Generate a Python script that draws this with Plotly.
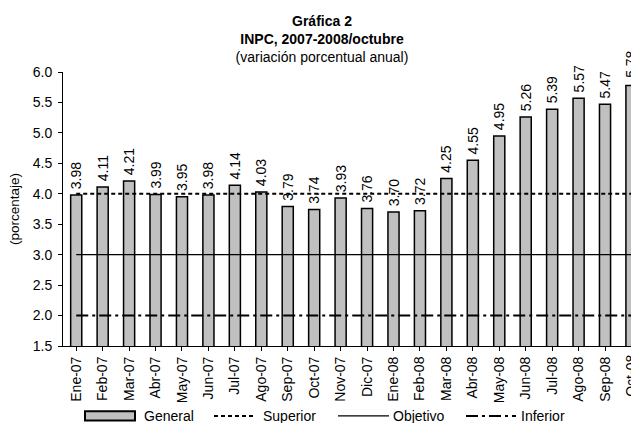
import plotly.graph_objects as go

categories = ["Ene-07", "Feb-07", "Mar-07", "Abr-07", "May-07", "Jun-07", "Jul-07",
              "Ago-07", "Sep-07", "Oct-07", "Nov-07", "Dic-07", "Ene-08", "Feb-08",
              "Mar-08", "Abr-08", "May-08", "Jun-08", "Jul-08", "Ago-08", "Sep-08", "Oct-08"]
general = [3.98, 4.11, 4.21, 3.99, 3.95, 3.98, 4.14, 4.03, 3.79, 3.74, 3.93, 3.76,
           3.70, 3.72, 4.25, 4.55, 4.95, 5.26, 5.39, 5.57, 5.47, 5.78]
superior = [4.0] * len(categories)
objetivo = [3.0] * len(categories)
inferior = [2.0] * len(categories)
y_ticks = [1.5, 2.0, 2.5, 3.0, 3.5, 4.0, 4.5, 5.0, 5.5, 6.0]

FONT = "Liberation Sans, Arial, sans-serif"
W, H = 631, 423
PLOT_L, PLOT_T, PLOT_B = 63, 72, 345.7   # plot area in window pixels
L, T = PLOT_L, PLOT_T
B = H - PLOT_B
PW = W - L
PH = PLOT_B - PLOT_T
CAT_PX = 26.44
x_lo = -0.5
x_hi = x_lo + PW / CAT_PX
LEG_Y = 415.5


def px(xpix):
    return (xpix - PLOT_L) / PW


def py(ypix):
    return (PLOT_B - ypix) / PH


fig = go.Figure()
fig.add_trace(go.Bar(
    x=list(range(len(categories))), y=general, width=0.42,
    marker=dict(color="#C0C0C0", line=dict(color="black", width=1.5)),
    texttemplate="\u2009%{y:.2f}", textposition="outside", textangle=-90,
    constraintext="none", cliponaxis=False,
    textfont=dict(family=FONT, size=14, color="black"),
    showlegend=False,
))
fig.add_trace(go.Scatter(x=list(range(len(categories))), y=superior, mode="lines",
                         line=dict(color="black", width=2, dash="4px,3px"), showlegend=False))
fig.add_trace(go.Scatter(x=list(range(len(categories))), y=objetivo, mode="lines",
                         line=dict(color="black", width=1.2), showlegend=False))
fig.add_trace(go.Scatter(x=list(range(len(categories))), y=inferior, mode="lines",
                         line=dict(color="black", width=2, dash="12px,4px,3px,4px"), showlegend=False))

# custom legend
shapes = [
    dict(type="rect", xref="paper", yref="paper", x0=px(85), x1=px(135), y0=py(LEG_Y + 4.5), y1=py(LEG_Y - 4.5),
         fillcolor="#C0C0C0", line=dict(color="black", width=2)),
    dict(type="line", xref="paper", yref="paper", x0=px(214), x1=px(254), y0=py(LEG_Y), y1=py(LEG_Y),
         line=dict(color="black", width=2, dash="4px,3px")),
    dict(type="line", xref="paper", yref="paper", x0=px(338), x1=px(389), y0=py(LEG_Y), y1=py(LEG_Y),
         line=dict(color="black", width=1.2)),
    dict(type="line", xref="paper", yref="paper", x0=px(466), x1=px(516), y0=py(LEG_Y), y1=py(LEG_Y),
         line=dict(color="black", width=2, dash="12px,4px,3px,4px")),
]
annotations = []
for label, xpix in [("General", 142), ("Superior", 261), ("Objetivo", 391), ("Inferior", 519)]:
    annotations.append(dict(text=label, xref="paper", yref="paper", x=px(xpix), y=py(LEG_Y),
                            xanchor="left", yanchor="middle", showarrow=False,
                            font=dict(family=FONT, size=14, color="black")))
annotations.append(dict(text="(porcentaje)", xref="paper", yref="paper", x=px(14), y=0.5,
                        textangle=-90, xanchor="center", yanchor="middle", showarrow=False,
                        font=dict(family=FONT, size=13.5, color="black")))
# the last category lies past the visible edge (cut off, as in the original):
# its tick label and value label are placed explicitly so they still show partially
last = len(categories) - 1
last_xp = (last - x_lo) / (x_hi - x_lo)
annotations.append(dict(text=categories[last], xref="paper", yref="paper",
                        x=last_xp, y=py(375),
                        textangle=-90, xanchor="center", yanchor="middle", showarrow=False,
                        font=dict(family=FONT, size=14, color="black")))
annotations.append(dict(text=f"{general[last]:.2f}", xref="paper", yref="y",
                        x=last_xp, y=general[last], yshift=21,
                        textangle=-90, xanchor="center", yanchor="middle", showarrow=False,
                        font=dict(family=FONT, size=14, color="black")))

fig.update_layout(
    width=W, height=H,
    margin=dict(l=L, r=0, t=T, b=B, autoexpand=False),
    paper_bgcolor="white", plot_bgcolor="white",
    font=dict(family=FONT, size=14, color="black"),
    title=dict(text="<b>Gráfica 2</b><br><b>INPC, 2007-2008/octubre</b><br>(variación porcentual anual)",
               x=322 / W, xanchor="center", xref="container",
               y=1 - 26 / H, yanchor="top", yref="container",
               font=dict(family=FONT, size=14, color="black")),
    shapes=shapes,
    annotations=annotations,
)
fig.update_xaxes(range=[x_lo, x_hi], tickmode="array", tickvals=list(range(len(categories))),
                 ticktext=categories, tickangle=-90, showline=True, linecolor="black", linewidth=1,
                 ticks="outside", ticklen=4, tickcolor="black", tickson="boundaries",
                 showgrid=False, zeroline=False, automargin=False,
                 tickfont=dict(family=FONT, size=14, color="black"))
fig.update_yaxes(range=[1.5, 6.0], tickvals=y_ticks, tickformat=".1f",
                 showline=True, linecolor="black", linewidth=1,
                 ticks="outside", ticklen=4, tickcolor="black", ticklabelstandoff=3,
                 showgrid=False, zeroline=False, automargin=False,
                 tickfont=dict(family=FONT, size=14, color="black"))

fig.write_html("out.html", config={"displayModeBar": False},
               post_script="document.body.style.margin='0';document.body.style.overflow='hidden';")
